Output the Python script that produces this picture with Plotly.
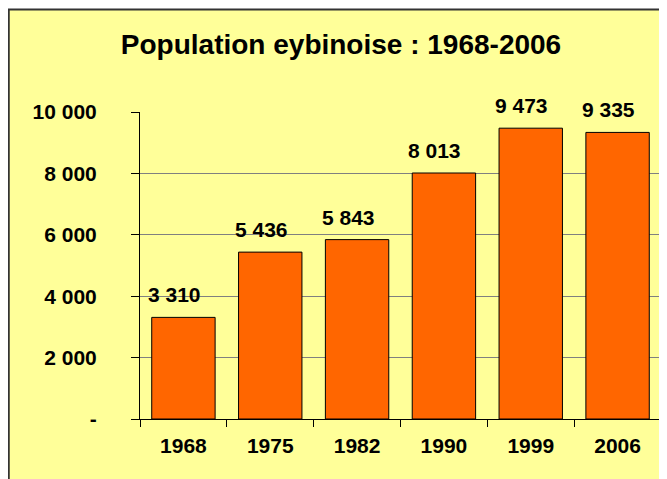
import plotly.graph_objects as go

years = ["1968", "1975", "1982", "1990", "1999", "2006"]
population = [3310, 5436, 5843, 8013, 9473, 9335]
y_ticks = [0, 2000, 4000, 6000, 8000, 10000]
title_text = "Population eybinoise : 1968-2006"


def fmt(v):
    return "-" if v == 0 else f"{v:,}".replace(",", " ")


FONT = "Liberation Sans, Arial, sans-serif"
BG = "#FFFF99"

fig = go.Figure(
    go.Bar(
        x=years,
        y=population,
        marker=dict(color="#FF6600", line=dict(color="#000000", width=1)),
        hoverinfo="skip",
    )
)

# data labels (x given as category index so it is not read as a number)
for i, v in enumerate(population):
    fig.add_annotation(
        x=i, y=v, text=fmt(v), showarrow=False,
        xanchor="center", yanchor="bottom", xshift=-9, yshift=9,
        font=dict(family=FONT, size=21, color="#000000", weight="bold"),
    )

# page body has an 8px margin: figure origin sits at page (8, 8)
OFF = 8
W, H = 667 - OFF, 479 - OFF
L, T = 139.5 - OFF, 111.7 - OFF
R = W - (661.5 - OFF)
B = H - (419.5 - OFF)
pw, ph = W - L - R, H - T - B

fig.add_shape(
    type="rect", xref="paper", yref="paper",
    x0=(8 - OFF - L) / pw, x1=1.2, y0=-0.5, y1=(H - B - (9 - OFF)) / ph,
    fillcolor=BG, line=dict(color="#333333", width=2), layer="below",
)
fig.add_shape(
    type="line", xref="paper", yref="paper",
    x0=1, x1=1, y0=0, y1=1,
    line=dict(color="#808080", width=1), layer="below",
)

fig.update_layout(
    width=W, height=H,
    margin=dict(l=L, r=R, t=T, b=B, pad=0, autoexpand=False),
    paper_bgcolor="#FFFFFF",
    plot_bgcolor="rgba(0,0,0,0)",
    bargap=0.27,
    showlegend=False,
    font=dict(family=FONT, color="#000000"),
    title=dict(
        text=f"<b>{title_text}</b>",
        x=(341 - OFF) / W, xanchor="center", xref="container",
        y=1 - (44 - OFF) / H, yanchor="middle", yref="container",
        font=dict(family=FONT, size=28, color="#000000"),
    ),
    xaxis=dict(
        type="category",
        categoryorder="array", categoryarray=years,
        range=[-0.5, len(years) - 0.5],
        showline=True, linecolor="#000000", linewidth=1,
        ticks="outside", ticklen=7, tickcolor="#000000",
        tickson="boundaries",
        showgrid=False,
        tickangle=0,
        tickfont=dict(family=FONT, size=21, weight="bold"),
        ticklabelstandoff=8,
    ),
    yaxis=dict(
        range=[0, 10000],
        tickvals=y_ticks, ticktext=[fmt(v) for v in y_ticks],
        showline=True, linecolor="#000000", linewidth=1,
        ticks="outside", ticklen=8, tickcolor="#000000",
        showgrid=True, gridcolor="#808080", gridwidth=1,
        zeroline=False,
        tickfont=dict(family=FONT, size=21, weight="bold"),
        ticklabelstandoff=30,
    ),
)

fig.write_html("out.html")
